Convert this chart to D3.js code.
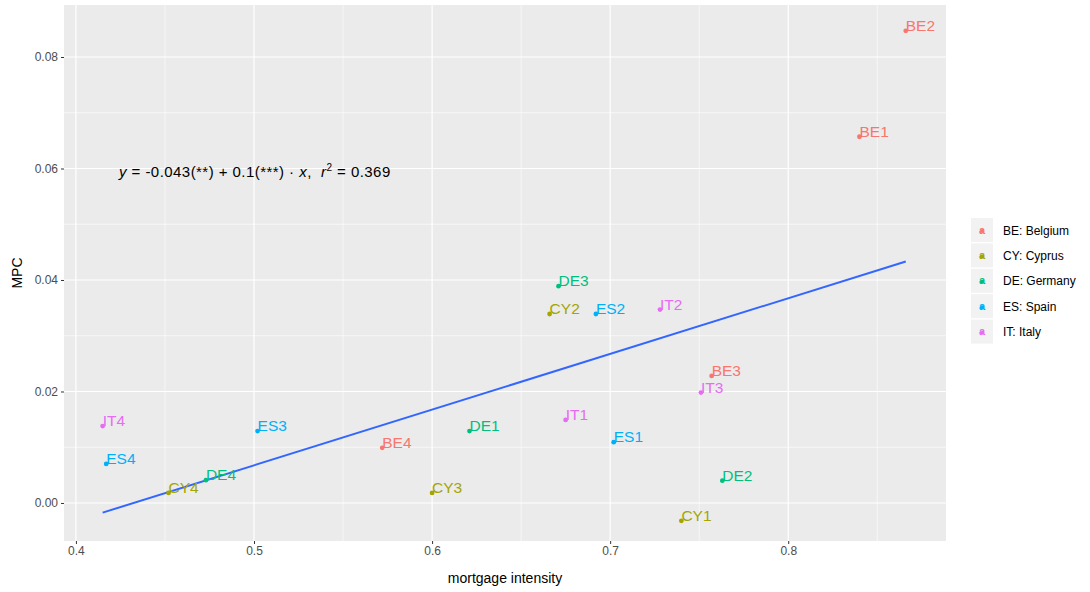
<!DOCTYPE html>
<html>
<head>
<meta charset="utf-8">
<script src="https://cdn.jsdelivr.net/npm/d3@7"></script>
<style>
  html, body { margin: 0; padding: 0; background: #fff; }
  svg { display: block; font-family: "Liberation Sans", Arial, sans-serif; }
</style>
</head>
<body>
<svg id="chart" width="1090" height="592"></svg>
<script>
// ---- data ----
const labels    = ["BE1","BE2","BE3","BE4","CY1","CY2","CY3","CY4","DE1","DE2","DE3","DE4","ES1","ES2","ES3","ES4","IT1","IT2","IT3","IT4"];
const countries = ["BE","BE","BE","BE","CY","CY","CY","CY","DE","DE","DE","DE","ES","ES","ES","ES","IT","IT","IT","IT"];
const mortgage  = [0.840,0.866,0.757,0.572,0.740,0.666,0.600,0.452,0.621,0.763,0.671,0.473,0.702,0.692,0.502,0.417,0.675,0.728,0.751,0.415];
const mpc       = [0.0657,0.0847,0.0228,0.0099,-0.0032,0.0339,0.0018,0.0018,0.0129,0.0040,0.0389,0.0041,0.0109,0.0339,0.0129,0.0070,0.0149,0.0347,0.0198,0.0138];
const legendKeys   = ["BE","CY","DE","ES","IT"];
const legendLabels = ["BE: Belgium","CY: Cyprus","DE: Germany","ES: Spain","IT: Italy"];
const xTicks = [0.4,0.5,0.6,0.7,0.8];
const yTicks = [0.00,0.02,0.04,0.06,0.08];
const xMinor = [0.45,0.55,0.65,0.75,0.85];
const yMinor = [0.01,0.03,0.05,0.07];
const xDomain = [0.3933, 0.8886];
const yDomain = [-0.00682, 0.08933];
const equationParts = [["y",true],[" = -0.043(**) + 0.1(***) \u00B7 ",false],["x",true],[",  ",false],["r",true]];

// ---- layout ----
const svg = d3.select("#chart");
const P = {l: 64, r: 946, t: 5, b: 541};
const data = labels.map((d,i)=>({label:d, c:countries[i], x:mortgage[i], y:mpc[i]}));

const xr = d3.extent(mortgage);
const x = d3.scaleLinear().domain(xDomain).range([P.l, P.r]);
const y = d3.scaleLinear().domain(yDomain).range([P.b, P.t]);
const color = d3.scaleOrdinal().domain(legendKeys).range(["#F8766D","#A3A500","#00BF7D","#00B0F6","#E76BF3"]);

// panel
svg.append("rect").attr("x",P.l).attr("y",P.t).attr("width",P.r-P.l).attr("height",P.b-P.t).attr("fill","#EBEBEB");
const grid = svg.append("g");
xMinor.forEach(v=>grid.append("line").attr("x1",x(v)).attr("x2",x(v)).attr("y1",P.t).attr("y2",P.b).attr("stroke","#fff").attr("stroke-width",0.6));
yMinor.forEach(v=>grid.append("line").attr("y1",y(v)).attr("y2",y(v)).attr("x1",P.l).attr("x2",P.r).attr("stroke","#fff").attr("stroke-width",0.6));
xTicks.forEach(v=>grid.append("line").attr("x1",x(v)).attr("x2",x(v)).attr("y1",P.t).attr("y2",P.b).attr("stroke","#fff").attr("stroke-width",1.2));
yTicks.forEach(v=>grid.append("line").attr("y1",y(v)).attr("y2",y(v)).attr("x1",P.l).attr("x2",P.r).attr("stroke","#fff").attr("stroke-width",1.2));

// axes
const xAxis = svg.append("g").attr("transform",`translate(0,${P.b})`)
  .call(d3.axisBottom(x).tickValues(xTicks).tickFormat(d3.format(".1f")).tickSize(3).tickPadding(2));
const yAxis = svg.append("g").attr("transform",`translate(${P.l},0)`)
  .call(d3.axisLeft(y).tickValues(yTicks).tickFormat(d3.format(".2f")).tickSize(3).tickPadding(3));
[xAxis,yAxis].forEach(a=>{
  a.select(".domain").remove();
  a.selectAll(".tick line").attr("stroke","#333").attr("stroke-width",1);
  a.selectAll(".tick text").attr("fill","#4D4D4D").style("font-size","12px");
});

svg.append("text").attr("x",(P.l+P.r)/2).attr("y",583).attr("text-anchor","middle")
  .style("font-size","14px").attr("fill","#000").text("mortgage intensity");
svg.append("text").attr("transform",`translate(22,${(P.t+P.b)/2}) rotate(-90)`).attr("text-anchor","middle")
  .style("font-size","14px").attr("fill","#000").text("MPC");

// regression line (least squares)
const mx = d3.mean(mortgage), my = d3.mean(mpc);
const slope = d3.sum(data, d=>(d.x-mx)*(d.y-my)) / d3.sum(data, d=>(d.x-mx)**2);
const icpt = my - slope*mx;
svg.append("line").attr("x1",x(xr[0])).attr("y1",y(icpt+slope*xr[0]))
  .attr("x2",x(xr[1])).attr("y2",y(icpt+slope*xr[1]))
  .attr("stroke","#3366FF").attr("stroke-width",2);

// points & labels
svg.append("g").selectAll("circle").data(data).join("circle")
  .attr("cx",d=>x(d.x)).attr("cy",d=>y(d.y)).attr("r",2.4).attr("fill",d=>color(d.c));
svg.append("g").selectAll("text").data(data).join("text")
  .attr("x",d=>x(d.x)).attr("y",d=>y(d.y)).attr("text-anchor","start")
  .style("font-size","15.5px").attr("fill",d=>color(d.c)).text(d=>d.label);

// equation
const eq = svg.append("text").attr("x",119).attr("y",177).style("font-size","15px")
  .style("white-space","pre").style("letter-spacing","0.45px").attr("fill","#000");
equationParts.forEach(([t,it])=>eq.append("tspan").style("font-style",it?"italic":"normal").text(t));
eq.append("tspan").attr("dy",-6).style("font-size","10px").text("2");
eq.append("tspan").attr("dy",6).text(" = 0.369");

// legend
const lg = svg.append("g");
legendKeys.forEach((k,i)=>{
  const cy = 230 + i*25.4;
  lg.append("rect").attr("x",971).attr("y",cy-12).attr("width",22).attr("height",24).attr("fill","#F2F2F2");
  lg.append("text").attr("x",982).attr("y",cy+3.5).attr("text-anchor","middle").style("font-size","11px")
    .style("font-weight","bold").attr("fill",color(k)).text("a");
  lg.append("circle").attr("cx",982).attr("cy",cy+1).attr("r",2).attr("fill",color(k));
  lg.append("text").attr("x",1003).attr("y",cy+4.5).style("font-size","12px").attr("fill","#000").text(legendLabels[i]);
});
</script>
</body>
</html>
